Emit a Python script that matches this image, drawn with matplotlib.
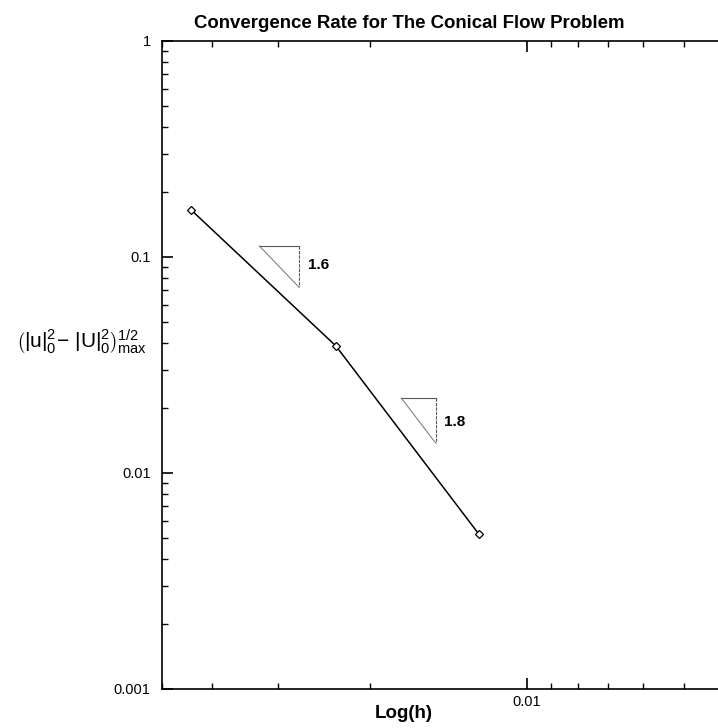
import matplotlib
matplotlib.use("Agg")
import matplotlib.pyplot as plt
from matplotlib.ticker import LogLocator, FuncFormatter, NullFormatter

plt.rcParams["font.family"] = ["Liberation Sans", "DejaVu Sans"]
plt.rcParams["mathtext.fontset"] = "custom"
plt.rcParams["mathtext.rm"] = "Liberation Sans"
plt.rcParams["mathtext.it"] = "Liberation Sans"

# data
h = [0.0439, 0.0232, 0.01237]
err = [0.165, 0.0387, 0.00522]

# slope triangles: (x_left, x_right, y_top, y_bottom), label, label position
tri_x = [(0.0325, 0.02733), (0.0174, 0.01496)]
tri_y = [(0.1124, 0.0726), (0.02224, 0.01377)]
tri_lab = ["1.6", "1.8"]
tri_lab_xy = [(0.0263, 0.0915), (0.01443, 0.0172)]

fig = plt.figure(figsize=(7.18, 7.28), dpi=100)
# axes runs past the right edge of the figure, as in the reference
ax = fig.add_axes([161.7 / 718, 39 / 728, (735 - 161.7) / 718, (689 - 41) / 728])
ax.set_xscale("log")
ax.set_yscale("log")
ax.set_xlim(0.05, 0.004)
ax.set_ylim(0.001, 1)

ax.plot(h, err, color="black", lw=1.1, marker="D", ms=4.5, mfc="white",
        mec="black", mew=0.9)

for (x0, x1), (y0, y1), lab, (lx, ly) in zip(tri_x, tri_y, tri_lab, tri_lab_xy):
    ax.plot([x0, x1], [y0, y0], color="0.35", lw=0.8)
    ax.plot([x1, x1], [y0, y1], color="0.35", lw=0.8, ls=(0, (3, 1)))
    ax.plot([x0, x1], [y0, y1], color="0.45", lw=0.7)
    ax.text(lx, ly, lab, fontsize=11, fontweight="bold", va="center", ha="left")

fmt = FuncFormatter(lambda v, _: "%g" % v)
for axis in (ax.xaxis, ax.yaxis):
    axis.set_major_locator(LogLocator(base=10))
    axis.set_minor_locator(LogLocator(base=10, subs=range(2, 10)))
    axis.set_major_formatter(fmt)
    axis.set_minor_formatter(NullFormatter())

ax.tick_params(which="both", direction="in", top=True, right=False, labelsize=10.5)
ax.tick_params(which="major", length=8, width=1.2)
ax.tick_params(which="minor", length=4, width=1.0)
ax.tick_params(axis="y", pad=8)
ax.tick_params(axis="x", pad=4)
ax.spines["right"].set_visible(False)
for s in ("left", "bottom", "top"):
    ax.spines[s].set_linewidth(1.2)

ax.set_title("Convergence Rate for The Conical Flow Problem", fontsize=13.4,
             fontweight="bold", pad=9, x=(409 - 161.7) / (735 - 161.7))
ax.set_xlabel("Log(h)", fontsize=13.5, fontweight="bold", va="center")
ax.xaxis.set_label_coords((404 - 161.7) / (735 - 161.7), -(713 - 689) / 648)
fig.text(82 / 718, 1 - 342 / 728,
         r"$\left(\mathrm{|u|_0^2\!-\, |U|_0^2}\right)^{1/2}_{\mathrm{max}}$",
         fontsize=15, ha="center", va="center")

fig.savefig("out.png", dpi=100)
